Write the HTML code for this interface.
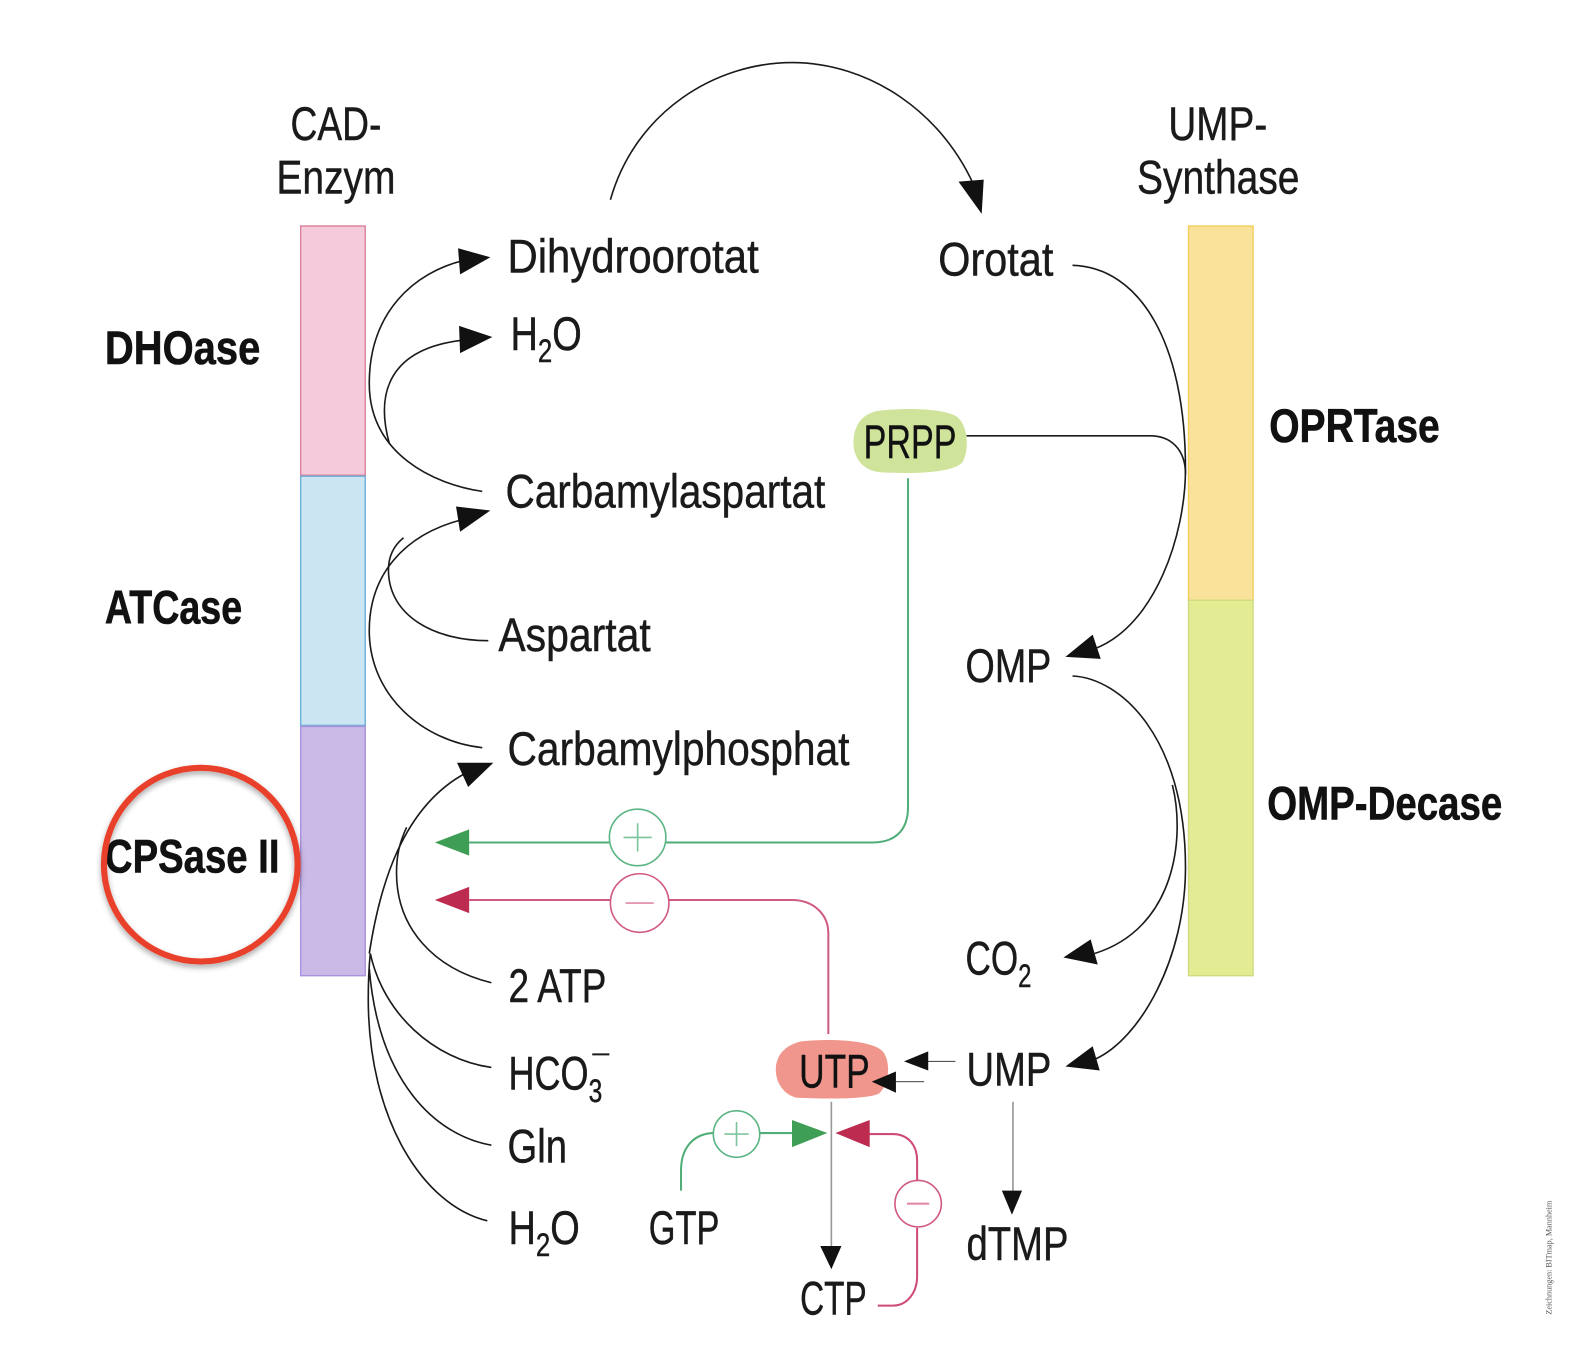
<!DOCTYPE html>
<html lang="de">
<head>
<meta charset="utf-8">
<title>CAD-Enzym und UMP-Synthase</title>
<style>
html,body{margin:0;padding:0;background:#fff;width:1582px;height:1352px;overflow:hidden}
svg{display:block}
text{font-family:"Liberation Sans",sans-serif;font-size:47px;fill:#1a1a1a;stroke:#1a1a1a;stroke-width:.45}
.b{font-weight:bold;fill:#111;stroke:#111;stroke-width:.6}
.c{fill:none;stroke:#1a1a1a;stroke-width:1.6}
.t{fill:#111}
</style>
</head>
<body>
<svg xmlns="http://www.w3.org/2000/svg" width="1582" height="1352" viewBox="0 0 1568 1340" preserveAspectRatio="none">
<defs>
<filter id="sh" x="-20%" y="-20%" width="140%" height="140%"><feDropShadow dx="0" dy="3" stdDeviation="3" flood-color="#000" flood-opacity=".35"/></filter>
</defs>

<g>
<rect x="298" y="224" width="64" height="247" fill="#f5cbdc" stroke="#d9809a" stroke-width="1.4"/>
<rect x="298" y="472" width="64" height="247" fill="#cce5f2" stroke="#6cb0d8" stroke-width="1.4"/>
<rect x="298" y="720" width="64" height="247" fill="#cbb9e8" stroke="#a893dc" stroke-width="1.4"/>
</g>
<g>
<rect x="1178" y="224" width="64" height="371" fill="#f9e39a" stroke="#f3cf5f" stroke-width="1.4"/>
<rect x="1178" y="595" width="64" height="372" fill="#e3ec93" stroke="#d0dc80" stroke-width="1.4"/>
</g>

<path d="M872 407C900 404 932 405 947 412C960 420 961 446 954 458C944 469 905 470 872 468C852 466 845 450 846 436C847 420 856 409 872 407Z" fill="#cfe49a"/>
<path d="M795 1032C825 1029 864 1031 875 1042C883 1052 882 1075 871 1084C857 1090 815 1089 790 1088C775 1085 768 1070 769 1058C770 1044 780 1035 795 1032Z" fill="#f1968c"/>

<g>
<path class="c" d="M605 198C630 110 710 62 785 62C860 62 935 110 968 190"/>
<path class="c" d="M478 487C430 480 366 450 366 380C366 310 410 270 460 258"/>
<path class="c" d="M386 440C372 390 385 345 460 337"/>
<path class="c" d="M478 741C420 735 366 690 366 625C366 570 400 530 458 515"/>
<path class="c" d="M484 635C430 635 385 610 385 565C385 552 390 541 400 533"/>
<path class="c" d="M366 945C376 880 398 800 462 766"/>
<path class="c" d="M487 974C430 960 393 920 393 865C393 848 396 835 403 820"/>
<path class="c" d="M487 1058C430 1050 380 1005 367 945"/>
<path class="c" d="M487 1135C430 1125 375 1070 366 960"/>
<path class="c" d="M483 1210C420 1195 365 1110 365 990C365 970 366 955 367 945"/>
<path class="c" d="M1063 263C1130 265 1175 340 1175 465C1175 530 1145 620 1085 643"/>
<path class="c" d="M958 432L1140 432C1160 432 1175 445 1175 470"/>
<path class="c" d="M1063 670C1110 672 1175 730 1175 860C1175 950 1130 1030 1085 1050"/>
<path class="c" d="M1162 778C1175 830 1165 920 1085 945"/>
</g>

<g fill="#111">
<polygon points="950,180 975,178 973,212"/>
<polygon points="454,246 456,272 486,255"/>
<polygon points="455,323 456,350 488,334"/>
<polygon points="452,502 456,527 486,506"/>
<polygon points="453,756 489,756 464,780"/>
<polygon points="1056,651 1091,653 1083,629"/>
<polygon points="1054,949 1088,956 1081,931"/>
<polygon points="1056,1057 1090,1061 1083,1037"/>
</g>

<g>
<path d="M900 474L900 800C900 825 885 835 865 835L465 835" fill="none" stroke="#4fae78" stroke-width="2"/>
<polygon points="431,835 465,822 465,848" fill="#3f9e55"/>
<circle cx="632" cy="830" r="28" fill="#fff" stroke="#5cb585" stroke-width="1.6"/>
<path d="M618 830H646M632 816V844" stroke="#7cc59c" stroke-width="1.6"/>
</g>
<g>
<path d="M821 1025L821 925C821 905 805 892 785 892L465 892" fill="none" stroke="#cf5a80" stroke-width="2"/>
<polygon points="431,892 465,879 465,905" fill="#bd2b50"/>
<circle cx="634" cy="895" r="29" fill="#fff" stroke="#d05a80" stroke-width="1.6"/>
<path d="M620 895H648" stroke="#e08aa5" stroke-width="1.6"/>
</g>

<g>
<path d="M947 1052H918" stroke="#555" stroke-width="1.2"/>
<polygon points="896,1052 920,1042 920,1061" fill="#111"/>
<path d="M916 1072H886" stroke="#666" stroke-width="1.2"/>
<polygon points="864,1072 888,1062 888,1083" fill="#111"/>
<path d="M824 1092V1238" stroke="#999" stroke-width="1.6"/>
<polygon points="813,1235 834,1235 824,1258" fill="#111"/>
<path d="M1004 1092V1183" stroke="#888" stroke-width="1.4"/>
<polygon points="993,1180 1013,1180 1003,1204" fill="#111"/>
</g>

<g>
<path d="M675 1180L675 1160C675 1135 690 1123 708 1123M753 1123H787" fill="none" stroke="#4fae78" stroke-width="2"/>
<polygon points="820,1123 785,1110 785,1137" fill="#3f9e55"/>
<circle cx="730" cy="1124" r="23" fill="#fff" stroke="#5cb585" stroke-width="1.6"/>
<path d="M718 1124H742M730 1112V1136" stroke="#7cc59c" stroke-width="1.6"/>
</g>
<g>
<path d="M870 1294L885 1294C900 1294 909 1280 909 1265L909 1217M909 1170L909 1150C909 1133 898 1124 885 1124L860 1124" fill="none" stroke="#cf4a74" stroke-width="2"/>
<polygon points="828,1123 862,1110 862,1137" fill="#bd2b50"/>
<circle cx="910" cy="1193" r="23" fill="#fff" stroke="#d05a80" stroke-width="1.6"/>
<path d="M899 1193H921" stroke="#e08aa5" stroke-width="2"/>
</g>

<g transform="translate(0 -1)">
<text x="288" y="140" textLength="90" lengthAdjust="spacingAndGlyphs">CAD-</text>
<text x="274" y="193" textLength="118" lengthAdjust="spacingAndGlyphs">Enzym</text>
<text x="1158" y="140" textLength="98" lengthAdjust="spacingAndGlyphs">UMP-</text>
<text x="1127" y="193" textLength="161" lengthAdjust="spacingAndGlyphs">Synthase</text>

<text class="b" x="104" y="362" textLength="154" lengthAdjust="spacingAndGlyphs">DHOase</text>
<text class="b" x="104" y="619" textLength="136" lengthAdjust="spacingAndGlyphs">ATCase</text>
<text class="b" x="104" y="866" textLength="173" lengthAdjust="spacingAndGlyphs">CPSase II</text>
<text class="b" x="1258" y="439" textLength="169" lengthAdjust="spacingAndGlyphs">OPRTase</text>
<text class="b" x="1256" y="813" textLength="233" lengthAdjust="spacingAndGlyphs">OMP-Decase</text>

<text x="503" y="271" textLength="249" lengthAdjust="spacingAndGlyphs">Dihydroorotat</text>
<text transform="translate(506 348) scale(.8 1)">H<tspan font-size="32" dy="12">2</tspan><tspan dy="-12">O</tspan></text>
<text x="930" y="274" textLength="114" lengthAdjust="spacingAndGlyphs">Orotat</text>
<text class="t" x="856" y="455" textLength="92" lengthAdjust="spacingAndGlyphs">PRPP</text>
<text x="501" y="504" textLength="317" lengthAdjust="spacingAndGlyphs">Carbamylaspartat</text>
<text x="494" y="646" textLength="151" lengthAdjust="spacingAndGlyphs">Aspartat</text>
<text x="957" y="677" textLength="85" lengthAdjust="spacingAndGlyphs">OMP</text>
<text x="503" y="759" textLength="339" lengthAdjust="spacingAndGlyphs">Carbamylphosphat</text>
<text transform="translate(957 967) scale(.74 1)">CO<tspan font-size="32" dy="12">2</tspan></text>
<text x="504" y="994" textLength="97" lengthAdjust="spacingAndGlyphs">2 ATP</text>
<text transform="translate(504 1081) scale(.76 1)">HCO<tspan font-size="32" dy="12">3</tspan></text>
<path d="M587 1046H604" stroke="#1a1a1a" stroke-width="2"/>
<text class="t" x="792" y="1079" textLength="70" lengthAdjust="spacingAndGlyphs">UTP</text>
<text x="958" y="1077" textLength="84" lengthAdjust="spacingAndGlyphs">UMP</text>
<text x="503" y="1153" textLength="59" lengthAdjust="spacingAndGlyphs">Gln</text>
<text transform="translate(504 1234) scale(.8 1)">H<tspan font-size="32" dy="12">2</tspan><tspan dy="-12">O</tspan></text>
<text x="643" y="1234" textLength="70" lengthAdjust="spacingAndGlyphs">GTP</text>
<text x="958" y="1250" textLength="101" lengthAdjust="spacingAndGlyphs">dTMP</text>
<text x="793" y="1304" textLength="66" lengthAdjust="spacingAndGlyphs">CTP</text>
</g>

<circle cx="199" cy="857" r="96" fill="none" stroke="#e8412a" stroke-width="6" filter="url(#sh)"/>

<text transform="translate(1538 1303) rotate(-90)" style="font-size:8px;fill:#555;stroke:none;font-family:'Liberation Serif',serif" textLength="113" lengthAdjust="spacingAndGlyphs">Zeichnungen: BITmap, Mannheim</text>
</svg>
</body>
</html>
